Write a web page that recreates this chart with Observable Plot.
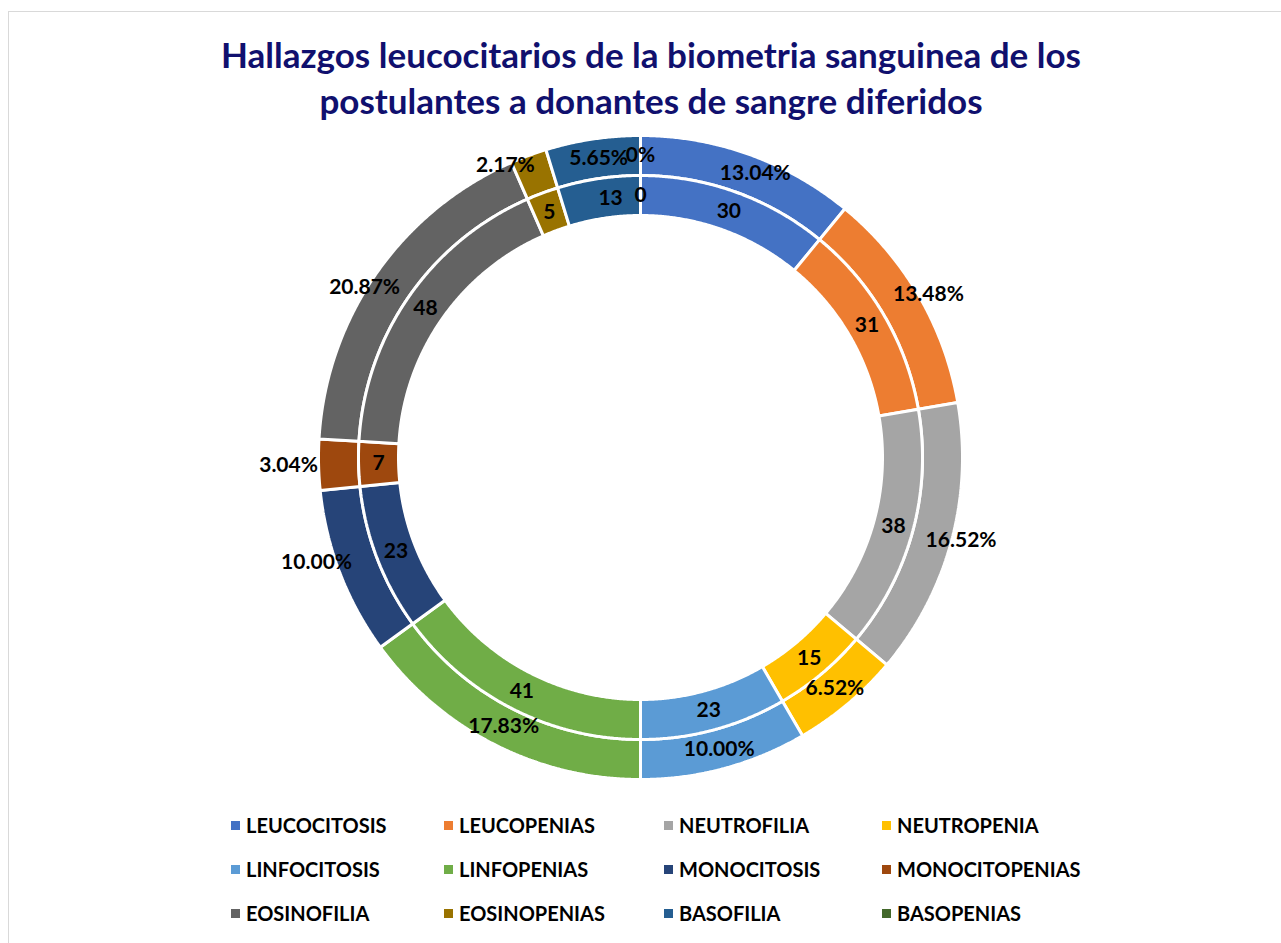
<!DOCTYPE html>
<html>
<head>
<meta charset="utf-8">
<script src="https://cdn.jsdelivr.net/npm/d3@7"></script>
<script src="https://cdn.jsdelivr.net/npm/@observablehq/plot@0.6"></script>
<style>
  html, body { margin: 0; padding: 0; background: #fff; overflow: hidden; }
  body { font-family: Lato, "Open Sans", sans-serif; width: 1281px; height: 943px; position: relative; }
  #frame { position: absolute; left: 8px; top: 11px; width: 1300px; height: 960px; border: 1px solid #d9d9d9; }
  #title { position: absolute; left: 0; top: 31px; width: 1302px; text-align: center; font-weight: 700;
           font-size: 35px; line-height: 46px; color: #10106e; }
  #chart { position: absolute; left: 0; top: 125px; }
  #legend { position: absolute; left: 231px; top: 803px; display: grid;
            grid-template-columns: 213px 220px 218px 220px; grid-auto-rows: 44px; }
  .item { display: flex; align-items: center; font-weight: 700; font-size: 20px; color: #000; }
  .sw { width: 9px; height: 9px; margin-right: 6px; flex: none; }
</style>
</head>
<body>
<div id="frame"></div>
<div id="title">Hallazgos leucocitarios de la biometria sanguinea de los<br>postulantes a donantes de sangre diferidos</div>
<div id="chart"></div>
<div id="legend"></div>
<script>
// ---- data ----
const categories = ["LEUCOCITOSIS", "LEUCOPENIAS", "NEUTROFILIA", "NEUTROPENIA",
  "LINFOCITOSIS", "LINFOPENIAS", "MONOCITOSIS", "MONOCITOPENIAS",
  "EOSINOFILIA", "EOSINOPENIAS", "BASOFILIA", "BASOPENIAS"];
const counts = [30, 31, 38, 15, 23, 41, 23, 7, 48, 5, 13, 0];
const percents = [13.04, 13.48, 16.52, 6.52, 10.00, 17.83, 10.00, 3.04, 20.87, 2.17, 5.65, 0];
const colors = ["#4472C4", "#ED7D31", "#A5A5A5", "#FFC000", "#5B9BD5", "#70AD47",
  "#264478", "#9E480E", "#636363", "#997300", "#255E91", "#43682B"];

// ---- layout ----
const W = 1281, H = 680;
const cx = 640, cy = 332; // centre inside the svg
const outer = {r0: 282, r1: 322, lr: 302};
const inner = {r0: 242, r1: 282, lr: 262};
// label nudges (Excel best-fit placement), in px: [dx, dy screen]
const outerNudge = {0: [13, 0], 1: [27, -11], 2: [29, 4], 6: [-42, -3], 7: [-50, 1], 8: [-28, 2], 9: [-30, -9], 10: [3, -1]};
const innerNudge = {10: [9, 0]};

function ring(values, geom, key, fmt, nudge) {
  const total = d3.sum(values);
  const pts = [], labels = [];
  let acc = 0;
  values.forEach((v, i) => {
    const a0 = acc / total * 2 * Math.PI;
    acc += v;
    const a1 = acc / total * 2 * Math.PI;
    const mid = (a0 + a1) / 2;
    const n = nudge[i] || [0, 0];
    labels.push({
      text: fmt(v),
      x: geom.lr * Math.sin(mid) + n[0],
      y: geom.lr * Math.cos(mid) - n[1]
    });
    if (v <= 0) return;
    const steps = Math.max(2, Math.ceil((a1 - a0) / 0.005));
    for (let k = 0; k <= steps; k++) {
      const a = a0 + (a1 - a0) * k / steps;
      pts.push({id: key + i, cat: categories[i], x: geom.r1 * Math.sin(a), y: geom.r1 * Math.cos(a)});
    }
    for (let k = steps; k >= 0; k--) {
      const a = a0 + (a1 - a0) * k / steps;
      pts.push({id: key + i, cat: categories[i], x: geom.r0 * Math.sin(a), y: geom.r0 * Math.cos(a)});
    }
  });
  return {pts, labels};
}

const outerRing = ring(percents, outer, "o", v => v === 0 ? "0%" : v.toFixed(2) + "%", outerNudge);
const innerRing = ring(counts, inner, "i", v => String(v), innerNudge);

const textOpts = {x: "x", y: "y", text: "text", fill: "#000", fontSize: 21, fontWeight: 700,
  fontFamily: "Lato, 'Open Sans', sans-serif", textAnchor: "middle", lineAnchor: "middle"};

const chart = Plot.plot({
  width: W, height: H,
  margin: 0,
  x: {domain: [-cx, W - cx], range: [0, W], axis: null},
  y: {domain: [-(H - cy), cy], range: [H, 0], axis: null},
  color: {domain: categories, range: colors},
  style: {background: "transparent"},
  marks: [
    Plot.line(outerRing.pts, {x: "x", y: "y", z: "id", fill: "cat", stroke: "white", strokeWidth: 3,
      strokeLinejoin: "miter", curve: "linear-closed"}),
    Plot.line(innerRing.pts, {x: "x", y: "y", z: "id", fill: "cat", stroke: "white", strokeWidth: 3,
      strokeLinejoin: "miter", curve: "linear-closed"}),
    Plot.text(outerRing.labels, textOpts),
    Plot.text(innerRing.labels, textOpts)
  ]
});
document.getElementById("chart").appendChild(chart);

const legend = document.getElementById("legend");
categories.forEach((c, i) => {
  const it = document.createElement("div");
  it.className = "item";
  const sw = document.createElement("span");
  sw.className = "sw";
  sw.style.background = colors[i];
  it.appendChild(sw);
  it.appendChild(document.createTextNode(c));
  legend.appendChild(it);
});
</script>
</body>
</html>
